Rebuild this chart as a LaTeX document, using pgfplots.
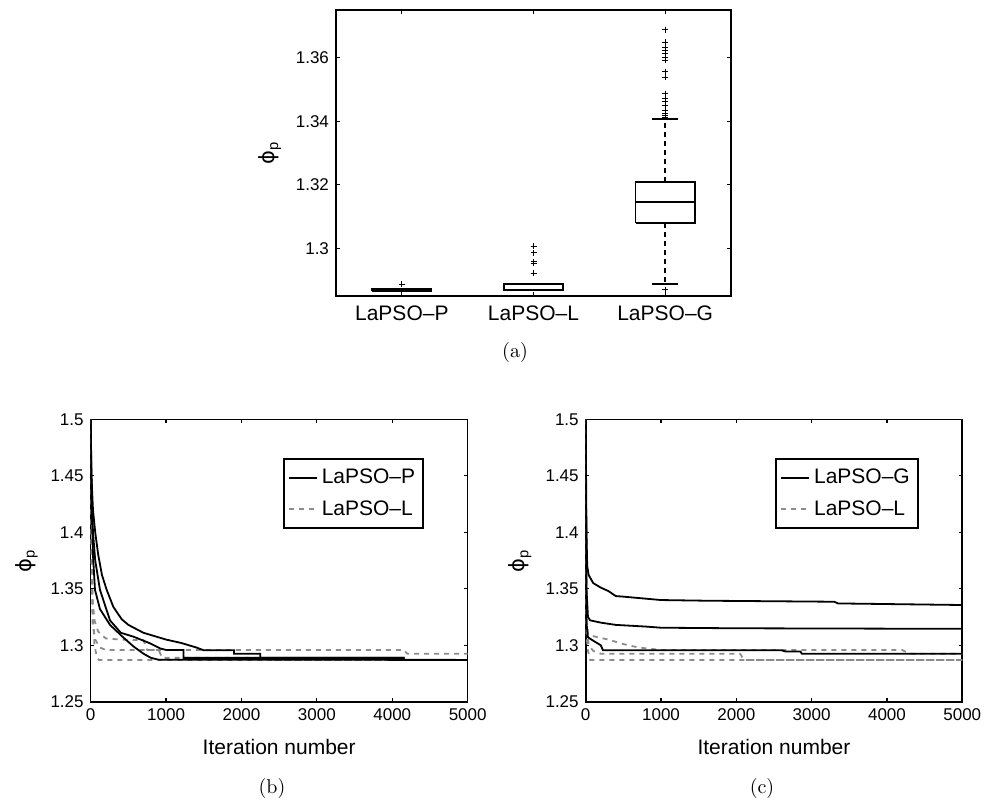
\documentclass[border=0pt]{standalone}
\usepackage{fontspec}
\usepackage{pgfplots}
\pgfplotsset{compat=1.18}
\newfontfamily\arial{Liberation Sans}
\newfontfamily\dejavu{DejaVu Sans}
\newcommand{\phip}{{\dejavu ϕ}\textsubscript{p}}

\pgfplotsset{
  matlab/.style={
    scale only axis,
    axis line style={line width=0.8pt},
    tick align=inside,
    xtick pos=both, ytick pos=both,
    xticklabel pos=left, yticklabel pos=left,
    major tick length=1.8pt,
    every tick/.style={black, line width=0.6pt},
    tick label style={font=\arial\fontsize{8.5}{10}\selectfont},
    label style={font=\arial\fontsize{10.5}{12}\selectfont},
    /pgf/number format/assume math mode=true,
    /pgf/number format/1000 sep={},
    scaled ticks=false,
  },
  curve/.style={black, line width=0.9pt, forget plot},
  gcurve/.style={black!45, line width=0.9pt, dash pattern=on 2.5pt off 2.5pt, forget plot},
  bx/.style={black, line width=0.9pt},
  wh/.style={black, line width=0.9pt, dash pattern=on 2.5pt off 2pt},
  lgd/.style={
    legend style={at={(axis description cs:0.884,0.863)}, anchor=north east,
      draw=black, line width=0.8pt, font=\arial\fontsize{10.5}{12}\selectfont,
      inner xsep=2pt, inner ysep=3pt, row sep=3pt,
      nodes={inner sep=2pt}},
    legend cell align=left,
    legend image code/.code={\draw[##1] (0pt,0pt) -- (14pt,0pt);},
  },
}

\begin{document}
\begin{tikzpicture}
\useasboundingbox (0,0) rectangle (496pt,400pt);

% (a) box plots: box from quartiles, median, dashed whiskers, caps, outliers
\begin{axis}[matlab,
  at={(168pt,252pt)}, anchor=south west,
  width=197.5pt, height=143pt,
  xmin=0.5, xmax=3.5, ymin=1.285, ymax=1.375,
  xtick={1,2,3},
  xticklabels={LaPSO\textendash P, LaPSO\textendash L, LaPSO\textendash G},
  xticklabel style={font=\arial\fontsize{10.5}{12}\selectfont, yshift=-1.5pt},
  ytick={1.30,1.32,1.34,1.36},
  ylabel={\phip},
  ylabel style={at={(axis description cs:-0.167,0.5)}, anchor=center},
]
% LaPSO-P
\addplot[bx] coordinates {(0.775,1.2866) (1.225,1.2866) (1.225,1.2871) (0.775,1.2871) (0.775,1.2866)};
% LaPSO-L
\addplot[wh] coordinates {(2,1.2888) (2,1.2889)};
\addplot[bx] coordinates {(1.775,1.2867) (2.225,1.2867) (2.225,1.2888) (1.775,1.2888) (1.775,1.2867)};
\addplot[bx] coordinates {(1.775,1.2868) (2.225,1.2868)};
\addplot[bx] coordinates {(1.9,1.2889) (2.1,1.2889)};
% LaPSO-G
\addplot[wh] coordinates {(3,1.3209) (3,1.3406)};
\addplot[wh] coordinates {(3,1.3080) (3,1.2887)};
\addplot[bx] coordinates {(2.775,1.3080) (3.225,1.3080) (3.225,1.3209) (2.775,1.3209) (2.775,1.3080)};
\addplot[bx] coordinates {(2.775,1.3146) (3.225,1.3146)};
\addplot[bx] coordinates {(2.9,1.3406) (3.1,1.3406)};
\addplot[bx] coordinates {(2.9,1.2887) (3.1,1.2887)};
% outliers
\addplot[only marks, mark=+, mark size=1.5pt, mark options={black, line width=0.5pt}]
  coordinates {(1,1.2887)
    (2,1.3007) (2,1.2986) (2,1.2958) (2,1.2953) (2,1.2921)
    (3,1.2869) (3,1.3688) (3,1.3649) (3,1.3633) (3,1.3623) (3,1.3613)
    (3,1.3600) (3,1.3592) (3,1.3555) (3,1.3539) (3,1.3487) (3,1.3471) (3,1.3461)
    (3,1.3450) (3,1.3434) (3,1.3424) (3,1.3419) (3,1.3412)};
\end{axis}

% (b)
\begin{axis}[matlab, lgd,
  at={(45.35pt,49.15pt)}, anchor=south west,
  width=188.5pt, height=141.2pt,
  xmin=0, xmax=5000, ymin=1.25, ymax=1.5,
  xtick={0,1000,2000,3000,4000,5000},
  ytick={1.25,1.3,1.35,1.4,1.45,1.5},
  xlabel={Iteration number},
  xlabel style={at={(axis description cs:0.5,0)}, anchor=center, yshift=-22.7pt},
  ylabel={\phip},
  ylabel style={at={(axis description cs:-0.17,0.5)}, anchor=center},
]
\addlegendimage{black, line width=0.9pt}
\addlegendentry{LaPSO\textendash P\hspace{4pt}}
\addlegendimage{black!45, line width=0.9pt, dash pattern=on 2.5pt off 2.5pt}
\addlegendentry{LaPSO\textendash L\hspace{4pt}}
% LaPSO-L runs
\addplot[gcurve] coordinates {(0,1.5) (10,1.40) (25,1.33) (50,1.30) (80,1.29) (110,1.2869) (5000,1.2869)};
\addplot[gcurve] coordinates {(0,1.5) (10,1.40) (25,1.34) (50,1.322) (100,1.312) (200,1.306) (400,1.305) (700,1.3045) (750,1.2958) (4150,1.2958) (4200,1.2925) (5000,1.2925)};
\addplot[gcurve] coordinates {(0,1.5) (10,1.38) (25,1.32) (60,1.305) (120,1.298) (200,1.2958) (900,1.2958) (950,1.2888) (2300,1.2888) (2350,1.2870) (5000,1.2870)};
% LaPSO-P runs
\addplot[curve] coordinates {(0,1.50) (10,1.45) (30,1.42) (60,1.40) (100,1.38) (150,1.362) (212,1.349) (300,1.334) (411,1.323) (500,1.318) (700,1.311) (1000,1.305) (1200,1.302) (1400,1.298) (1500,1.2955) (1900,1.2955) (1900,1.2925) (2250,1.2925) (2250,1.2888) (4150,1.2888) (4150,1.2870) (5000,1.2870)};
\addplot[curve] coordinates {(0,1.50) (10,1.44) (30,1.40) (60,1.375) (123,1.349) (256,1.322) (400,1.311) (566,1.3076) (787,1.3017) (920,1.2972) (1000,1.2958) (1230,1.2958) (1230,1.2888) (4150,1.2888) (4150,1.2870) (5000,1.2870)};
\addplot[curve] coordinates {(0,1.50) (10,1.43) (30,1.38) (57,1.349) (123,1.332) (256,1.318) (430,1.307) (566,1.299) (700,1.2925) (800,1.2888) (900,1.2872) (5000,1.2870)};
\end{axis}

% (c)
\begin{axis}[matlab, lgd,
  at={(292.85pt,49.15pt)}, anchor=south west,
  width=188.3pt, height=141.2pt,
  xmin=0, xmax=5000, ymin=1.25, ymax=1.5,
  xtick={0,1000,2000,3000,4000,5000},
  ytick={1.25,1.3,1.35,1.4,1.45,1.5},
  xlabel={Iteration number},
  xlabel style={at={(axis description cs:0.5,0)}, anchor=center, yshift=-22.7pt},
  ylabel={\phip},
  ylabel style={at={(axis description cs:-0.174,0.5)}, anchor=center},
  legend style={at={(axis description cs:0.884,0.863)}},
]
\addlegendimage{black, line width=0.9pt}
\addlegendentry{LaPSO\textendash G\hspace{4pt}}
\addlegendimage{black!45, line width=0.9pt, dash pattern=on 2.5pt off 2.5pt}
\addlegendentry{LaPSO\textendash L\hspace{4pt}}
% LaPSO-L runs
\addplot[gcurve] coordinates {(0,1.5) (10,1.33) (30,1.31) (100,1.308) (300,1.305) (500,1.301) (700,1.298) (900,1.2965) (1000,1.2958) (4200,1.2958) (4300,1.2925) (5000,1.2925)};
\addplot[gcurve] coordinates {(0,1.5) (10,1.32) (40,1.30) (100,1.295) (200,1.2925) (2050,1.2925) (2100,1.2870) (5000,1.2870)};
\addplot[gcurve] coordinates {(0,1.5) (10,1.31) (30,1.295) (60,1.2870) (5000,1.2870)};
% LaPSO-G runs
\addplot[curve] coordinates {(0,1.5) (10,1.40) (20,1.37) (40,1.362) (100,1.355) (200,1.351) (300,1.348) (400,1.3435) (500,1.343) (800,1.3412) (1000,1.340) (1600,1.3394) (3300,1.3385) (3350,1.337) (5000,1.3356)};
\addplot[curve] coordinates {(0,1.5) (10,1.35) (30,1.325) (60,1.322) (200,1.320) (400,1.318) (800,1.3165) (1000,1.3155) (2000,1.315) (5000,1.3145)};
\addplot[curve] coordinates {(0,1.5) (10,1.32) (30,1.307) (100,1.304) (150,1.302) (200,1.300) (230,1.2955) (2600,1.2955) (2650,1.2945) (2850,1.2945) (2870,1.2925) (5000,1.2925)};
\end{axis}

\node[font=\fontsize{10}{12}\selectfont] at (257.5pt,224pt) {(a)};
\node[font=\fontsize{10}{12}\selectfont] at (136pt,6pt) {(b)};
\node[font=\fontsize{10}{12}\selectfont] at (381pt,6pt) {(c)};
\end{tikzpicture}
\end{document}
